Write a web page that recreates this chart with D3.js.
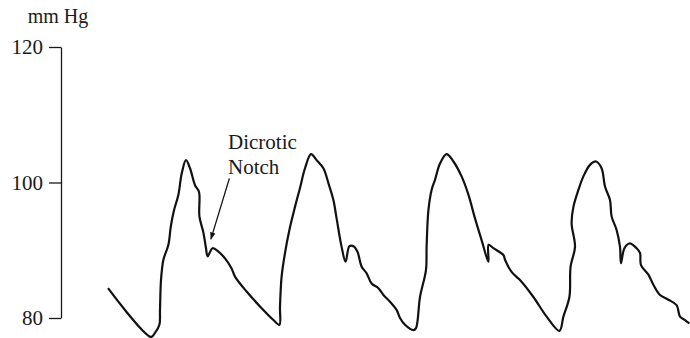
<!DOCTYPE html>
<html>
<head>
<meta charset="utf-8">
<script src="https://cdn.jsdelivr.net/npm/d3@7"></script>
<style>
  body { margin: 0; background: #fff; }
  text { font-family: "Liberation Serif", "Times New Roman", serif; fill: #1a1a1a; }
</style>
</head>
<body>
<div id="chart"></div>
<script>
// arterial pressure trace, time in ms, pressure in mm Hg
const times = [0, 215, 235, 257, 260, 265, 277, 302, 314, 330, 352, 369, 390, 410, 435, 455, 457, 477, 490, 498,
  523, 552, 585, 618, 635, 693, 760, 827, 857, 860, 868, 885, 907, 935, 960, 985, 1015, 1043, 1077, 1102,
  1127, 1143, 1168, 1188, 1207, 1227, 1247, 1268, 1293, 1318, 1352, 1377, 1410, 1443, 1460, 1485, 1527, 1540,
  1560, 1590, 1593, 1602, 1618, 1635, 1660, 1693, 1727, 1768, 1802, 1835, 1868, 1902, 1903, 1927, 1977, 1985,
  2018, 2060, 2127, 2193, 2257, 2277, 2307, 2313, 2335, 2318, 2327, 2352, 2377, 2410, 2440, 2468, 2485, 2510,
  2518, 2543, 2560, 2565, 2582, 2607, 2643, 2660, 2665, 2702, 2727, 2760, 2802, 2843, 2860, 2885, 2907];
const pressures = [84.4, 77.2, 77.8, 79.0, 81.2, 85.6, 88.6, 90.8, 93.5, 95.9, 98.2, 101.4, 103.3, 102.1, 99.6, 98.6, 95.0, 92.6, 90.3, 89.1,
  90.3, 89.8, 88.8, 87.3, 86.1, 83.9, 81.7, 79.7, 79.0, 81.7, 86.1, 89.6, 93.0, 96.4, 99.2, 102.1, 104.2, 103.3, 102.1, 99.9,
  97.4, 94.7, 90.5, 88.3, 90.6, 90.6, 89.8, 87.6, 86.6, 85.1, 84.4, 83.4, 82.4, 81.2, 80.0, 79.0, 78.2, 78.5,
  83.1, 87.1, 90.5, 95.9, 98.9, 100.4, 102.8, 104.2, 103.1, 100.9, 98.2, 94.7, 91.5, 88.3, 90.8, 90.3, 89.3, 88.6,
  86.8, 85.6, 83.1, 80.2, 78.1, 80.2, 83.1, 87.6, 90.5, 94.0, 96.4, 98.9, 100.9, 102.6, 103.1, 102.1, 99.4, 97.4,
  95.0, 93.0, 90.5, 88.1, 90.3, 91.0, 90.3, 89.6, 87.8, 86.4, 84.9, 83.4, 82.7, 81.9, 80.2, 79.7, 79.2];
const yTicks = [80, 100, 120];
const notchLabel = ["Dicrotic", "Notch"];
const notchArrow = { from: [607, 100.6], to: [514, 91.6] };

const width = 690, height = 338;
const svg = d3.select("#chart").append("svg")
  .attr("width", width)
  .attr("height", height);

const x = d3.scaleLinear().domain([0, 2910]).range([108, 690]);
const y = d3.scaleLinear().domain([80, 120]).range([318, 47]);

// y axis
const yAxis = svg.append("g")
  .attr("transform", "translate(61,0)")
  .call(d3.axisLeft(y).tickValues(yTicks).tickSize(12).tickSizeOuter(0).tickPadding(6));
yAxis.select(".domain").attr("stroke", "#1a1a1a").attr("stroke-width", 1.3);
yAxis.selectAll(".tick line").attr("stroke", "#1a1a1a").attr("stroke-width", 1.3);
yAxis.selectAll(".tick text")
  .style("font-family", '"Liberation Serif", serif')
  .style("font-size", "21px")
  .attr("fill", "#1a1a1a");

svg.append("text")
  .attr("x", 58)
  .attr("y", 23)
  .attr("text-anchor", "middle")
  .style("font-size", "20px")
  .text("mm Hg");

// pressure trace
const pts = times.map((t, i) => [t, pressures[i]]);
const line = d3.line()
  .x(d => x(d[0]))
  .y(d => y(d[1]))
  .curve(d3.curveCatmullRom.alpha(0.5));

svg.append("path")
  .datum(pts)
  .attr("fill", "none")
  .attr("stroke", "#111")
  .attr("stroke-width", 2.2)
  .attr("stroke-linejoin", "round")
  .attr("d", line);

// annotation
svg.append("defs").append("marker")
  .attr("id", "arrow")
  .attr("viewBox", "0 0 10 10")
  .attr("refX", 10).attr("refY", 5)
  .attr("markerWidth", 7).attr("markerHeight", 7)
  .attr("markerUnits", "userSpaceOnUse")
  .attr("orient", "auto")
  .append("path")
  .attr("d", "M0,1 L10,5 L0,9 Z")
  .attr("fill", "#111");

svg.append("line")
  .attr("x1", x(notchArrow.from[0])).attr("y1", y(notchArrow.from[1]))
  .attr("x2", x(notchArrow.to[0])).attr("y2", y(notchArrow.to[1]))
  .attr("stroke", "#111")
  .attr("stroke-width", 1.3)
  .attr("marker-end", "url(#arrow)");

svg.append("text")
  .attr("x", 228)
  .attr("y", 149)
  .style("font-size", "21px")
  .selectAll("tspan")
  .data(notchLabel)
  .enter()
  .append("tspan")
  .attr("x", 228)
  .attr("dy", (d, i) => i === 0 ? 0 : 25)
  .text(d => d);
</script>
</body>
</html>
